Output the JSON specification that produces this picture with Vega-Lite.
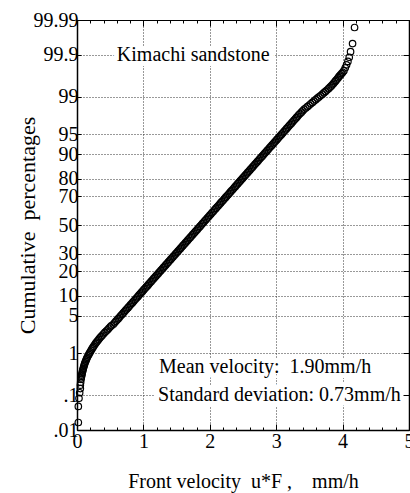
{
"$schema":"https://vega.github.io/schema/vega-lite/v6.json",
"width":332,"height":410,
"autosize":{"type":"none"},
"padding":{"left":77,"top":20,"right":1,"bottom":63},
"background":"white",
"config":{"font":"Liberation Serif","view":{"stroke":"black","strokeWidth":1},
"axis":{"labelFont":"Liberation Serif","titleFont":"Liberation Serif","labelFontSize":20,"titleFontSize":20,"titleFontWeight":"normal","labelColor":"black","titleColor":"black","domainColor":"black","tickColor":"black","gridColor":"#333","gridDash":[1,2],"gridWidth":1,"labelOverlap":false,"labelFlush":false}},
"datasets":{
"pts":[
{"u":0.02,"p":0.017},{"u":0.02,"p":0.05},{"u":0.03,"p":0.083},{"u":0.04,"p":0.117},{"u":0.05,"p":0.15},{"u":0.05,"p":0.183},{"u":0.055,"p":0.217},
{"u":0.06,"p":0.256},{"u":0.064,"p":0.279},{"u":0.068,"p":0.302},{"u":0.071,"p":0.324},
{"u":0.075,"p":0.347},{"u":0.08,"p":0.377},{"u":0.085,"p":0.406},{"u":0.09,"p":0.436},
{"u":0.095,"p":0.466},{"u":0.101,"p":0.505},{"u":0.108,"p":0.543},{"u":0.114,"p":0.582},
{"u":0.12,"p":0.621},{"u":0.129,"p":0.671},{"u":0.138,"p":0.72},{"u":0.146,"p":0.77},
{"u":0.155,"p":0.82},{"u":0.166,"p":0.883},{"u":0.178,"p":0.946},{"u":0.189,"p":1.009},
{"u":0.2,"p":1.072},{"u":0.213,"p":1.152},{"u":0.225,"p":1.231},{"u":0.238,"p":1.311},
{"u":0.25,"p":1.39},{"u":0.265,"p":1.489},{"u":0.28,"p":1.588},{"u":0.295,"p":1.687},
{"u":0.31,"p":1.786},{"u":0.328,"p":1.908},{"u":0.345,"p":2.031},{"u":0.363,"p":2.153},
{"u":0.38,"p":2.275},{"u":0.4,"p":2.424},{"u":0.42,"p":2.574},{"u":0.44,"p":2.723},
{"u":0.46,"p":2.872},{"u":0.48,"p":3.052},{"u":0.5,"p":3.232},{"u":0.52,"p":3.413},
{"u":0.547,"p":3.593},{"u":0.565,"p":3.809},{"u":0.584,"p":4.025},{"u":0.602,"p":4.241},
{"u":0.621,"p":4.457},{"u":0.639,"p":4.713},{"u":0.657,"p":4.969},{"u":0.676,"p":5.224},
{"u":0.694,"p":5.48},{"u":0.712,"p":5.78},{"u":0.731,"p":6.081},{"u":0.749,"p":6.381},
{"u":0.768,"p":6.681},{"u":0.786,"p":7.03},{"u":0.804,"p":7.379},{"u":0.823,"p":7.727},
{"u":0.841,"p":8.076},{"u":0.859,"p":8.477},{"u":0.878,"p":8.878},{"u":0.896,"p":9.279},
{"u":0.915,"p":9.68},{"u":0.933,"p":10.137},{"u":0.951,"p":10.594},{"u":0.97,"p":11.05},
{"u":0.988,"p":11.507},{"u":1.006,"p":12.022},{"u":1.025,"p":12.537},{"u":1.043,"p":13.052},
{"u":1.062,"p":13.567},{"u":1.08,"p":14.142},{"u":1.098,"p":14.716},{"u":1.117,"p":15.291},
{"u":1.135,"p":15.866},{"u":1.153,"p":16.501},{"u":1.172,"p":17.136},{"u":1.19,"p":17.771},
{"u":1.209,"p":18.406},{"u":1.227,"p":19.101},{"u":1.245,"p":19.796},{"u":1.264,"p":20.491},
{"u":1.282,"p":21.186},{"u":1.3,"p":21.939},{"u":1.319,"p":22.691},{"u":1.337,"p":23.444},
{"u":1.356,"p":24.196},{"u":1.374,"p":25.003},{"u":1.392,"p":25.811},{"u":1.411,"p":26.618},
{"u":1.429,"p":27.425},{"u":1.447,"p":28.282},{"u":1.466,"p":29.14},{"u":1.484,"p":29.997},
{"u":1.503,"p":30.854},{"u":1.521,"p":31.755},{"u":1.539,"p":32.656},{"u":1.558,"p":33.557},
{"u":1.576,"p":34.458},{"u":1.594,"p":35.396},{"u":1.613,"p":36.334},{"u":1.631,"p":37.271},
{"u":1.65,"p":38.209},{"u":1.668,"p":39.175},{"u":1.686,"p":40.142},{"u":1.705,"p":41.108},
{"u":1.723,"p":42.074},{"u":1.741,"p":43.06},{"u":1.76,"p":44.046},{"u":1.778,"p":45.031},
{"u":1.797,"p":46.017},{"u":1.815,"p":47.013},{"u":1.833,"p":48.008},{"u":1.852,"p":49.004},
{"u":1.87,"p":50},{"u":1.888,"p":50.996},{"u":1.907,"p":51.992},{"u":1.925,"p":52.987},
{"u":1.944,"p":53.983},{"u":1.962,"p":54.969},{"u":1.98,"p":55.954},{"u":1.999,"p":56.94},
{"u":2.017,"p":57.926},{"u":2.035,"p":58.892},{"u":2.054,"p":59.858},{"u":2.072,"p":60.825},
{"u":2.091,"p":61.791},{"u":2.109,"p":62.729},{"u":2.127,"p":63.666},{"u":2.146,"p":64.604},
{"u":2.164,"p":65.542},{"u":2.182,"p":66.443},{"u":2.201,"p":67.344},{"u":2.219,"p":68.245},
{"u":2.238,"p":69.146},{"u":2.256,"p":70.003},{"u":2.274,"p":70.86},{"u":2.293,"p":71.718},
{"u":2.311,"p":72.575},{"u":2.329,"p":73.382},{"u":2.348,"p":74.189},{"u":2.366,"p":74.997},
{"u":2.385,"p":75.804},{"u":2.403,"p":76.556},{"u":2.421,"p":77.309},{"u":2.44,"p":78.061},
{"u":2.458,"p":78.814},{"u":2.476,"p":79.509},{"u":2.495,"p":80.204},{"u":2.513,"p":80.899},
{"u":2.532,"p":81.594},{"u":2.55,"p":82.229},{"u":2.568,"p":82.864},{"u":2.587,"p":83.499},
{"u":2.605,"p":84.134},{"u":2.623,"p":84.709},{"u":2.642,"p":85.284},{"u":2.66,"p":85.858},
{"u":2.679,"p":86.433},{"u":2.697,"p":86.948},{"u":2.715,"p":87.463},{"u":2.734,"p":87.978},
{"u":2.752,"p":88.493},{"u":2.77,"p":88.95},{"u":2.789,"p":89.406},{"u":2.807,"p":89.863},
{"u":2.826,"p":90.32},{"u":2.844,"p":90.721},{"u":2.862,"p":91.122},{"u":2.881,"p":91.523},
{"u":2.899,"p":91.924},{"u":2.917,"p":92.273},{"u":2.936,"p":92.621},{"u":2.954,"p":92.97},
{"u":2.973,"p":93.319},{"u":2.991,"p":93.619},{"u":3.009,"p":93.92},{"u":3.028,"p":94.22},
{"u":3.046,"p":94.52},{"u":3.064,"p":94.776},{"u":3.083,"p":95.031},{"u":3.101,"p":95.287},
{"u":3.12,"p":95.543},{"u":3.138,"p":95.759},{"u":3.156,"p":95.975},{"u":3.175,"p":96.191},
{"u":3.193,"p":96.407},{"u":3.211,"p":96.587},{"u":3.23,"p":96.768},{"u":3.248,"p":96.948},
{"u":3.267,"p":97.128},{"u":3.285,"p":97.277},{"u":3.303,"p":97.426},{"u":3.322,"p":97.576},
{"u":3.34,"p":97.725},{"u":3.36,"p":97.847},{"u":3.38,"p":97.97},{"u":3.4,"p":98.092},
{"u":3.42,"p":98.214},{"u":3.445,"p":98.313},{"u":3.47,"p":98.412},{"u":3.495,"p":98.511},
{"u":3.52,"p":98.61},{"u":3.545,"p":98.69},{"u":3.57,"p":98.769},{"u":3.595,"p":98.849},
{"u":3.62,"p":98.928},{"u":3.645,"p":98.991},{"u":3.67,"p":99.054},{"u":3.695,"p":99.117},
{"u":3.72,"p":99.18},{"u":3.742,"p":99.23},{"u":3.765,"p":99.28},{"u":3.788,"p":99.329},
{"u":3.81,"p":99.379},{"u":3.83,"p":99.418},{"u":3.848,"p":99.457},{"u":3.866,"p":99.495},
{"u":3.885,"p":99.534},{"u":3.9,"p":99.564},{"u":3.918,"p":99.594},{"u":3.934,"p":99.623},
{"u":3.95,"p":99.653},{"u":3.968,"p":99.676},{"u":3.985,"p":99.699},{"u":4.002,"p":99.721},
{"u":4.02,"p":99.744},
{"u":4.04,"p":99.783},{"u":4.06,"p":99.817},{"u":4.08,"p":99.85},{"u":4.1,"p":99.883},{"u":4.12,"p":99.917},{"u":4.15,"p":99.95},{"u":4.18,"p":99.983}
],
"notes":[
{"label":"Kimachi sandstone","u":0.6,"p":99.9},
{"label":"Mean velocity:\u00a0\u00a01.90mm/h","u":1.235,"p":0.5},
{"label":"Standard deviation: 0.73mm/h","u":1.22,"p":0.1}
]},
"layer":[
{"data":{"name":"pts"},
"transform":[{"calculate":"quantileNormal(datum.p/100)","as":"z"}],
"mark":{"type":"point","shape":"circle","filled":false,"stroke":"black","strokeWidth":1.2,"size":42,"opacity":1},
"encoding":{
"x":{"field":"u","type":"quantitative","scale":{"domain":[0,5],"nice":false,"zero":false},
"axis":{"orient":"bottom","values":[0,0.2,0.4,0.6,0.8,1,1.2,1.4,1.6,1.8,2,2.2,2.4,2.6,2.8,3,3.2,3.4,3.6,3.8,4,4.2,4.4,4.6,4.8,5],
"labelExpr":"abs(datum.value-round(datum.value))<0.01 ? format(datum.value,'d') : ''",
"tickSize":{"condition":{"test":"abs(datum.value-round(datum.value))<0.01","value":-6},"value":-3},
"grid":true,
"gridOpacity":{"condition":{"test":"abs(datum.value-round(datum.value))<0.01 && datum.value>0.5 && datum.value<4.5","value":1},"value":0},
"labelPadding":7,"title":"Front velocity\u00a0\u00a0u*F ,\u00a0\u00a0\u00a0\u00a0mm/h","titlePadding":17,"domainWidth":1.5}},
"y":{"field":"z","type":"quantitative","scale":{"domain":[-3.719,3.719],"nice":false,"zero":false},
"axis":{"orient":"left","values":[-3.719,-3.0902,-2.3263,-1.6449,-1.2816,-0.8416,-0.5244,0,0.5244,0.8416,1.2816,1.6449,2.3263,3.0902,3.719],
"labelExpr":"datum.value < -3.5 ? '.01' : datum.value < -3 ? '.1' : datum.value > 3.5 ? '99.99' : datum.value > 3 ? '99.9' : format(round(cumulativeNormal(datum.value)*100),'d')",
"tickSize":-4,"labelPadding":3,"grid":true,"title":"Cumulative\u00a0\u00a0percentages","titleFontSize":22,"titlePadding":-6,"domainWidth":1.5}}}},
{"data":{"name":"notes"},
"transform":[{"calculate":"quantileNormal(datum.p/100)","as":"z"}],
"mark":{"type":"text","align":"left","baseline":"middle","font":"Liberation Serif","fontSize":20,"fill":"white","stroke":"white","strokeWidth":10},
"encoding":{
"x":{"field":"u","type":"quantitative","scale":{"domain":[0,5],"nice":false,"zero":false},
"axis":{"orient":"top","values":[0,0.2,0.4,0.6,0.8,1,1.2,1.4,1.6,1.8,2,2.2,2.4,2.6,2.8,3,3.2,3.4,3.6,3.8,4,4.2,4.4,4.6,4.8,5],"labels":false,"grid":false,"title":null,
"tickSize":{"condition":{"test":"abs(datum.value-round(datum.value))<0.01","value":-6},"value":-3},"domainWidth":1,"zindex":1}},
"y":{"field":"z","type":"quantitative","scale":{"domain":[-3.719,3.719],"nice":false,"zero":false},
"axis":{"orient":"right","values":[-3.719,-3.0902,-2.3263,-1.6449,-1.2816,-0.8416,-0.5244,0,0.5244,0.8416,1.2816,1.6449,2.3263,3.0902,3.719],"labels":false,"grid":false,"title":null,"tickSize":-6,"domainWidth":1.5,"zindex":1}},
"text":{"field":"label"}}},
{"data":{"name":"notes"},
"transform":[{"calculate":"quantileNormal(datum.p/100)","as":"z"}],
"mark":{"type":"text","align":"left","baseline":"middle","font":"Liberation Serif","fontSize":20,"fill":"black"},
"encoding":{
"x":{"field":"u","type":"quantitative","scale":{"domain":[0,5],"nice":false,"zero":false},"axis":null},
"y":{"field":"z","type":"quantitative","scale":{"domain":[-3.719,3.719],"nice":false,"zero":false},"axis":null},
"text":{"field":"label"}}}
],
"resolve":{"axis":{"x":"independent","y":"independent"}}
}
